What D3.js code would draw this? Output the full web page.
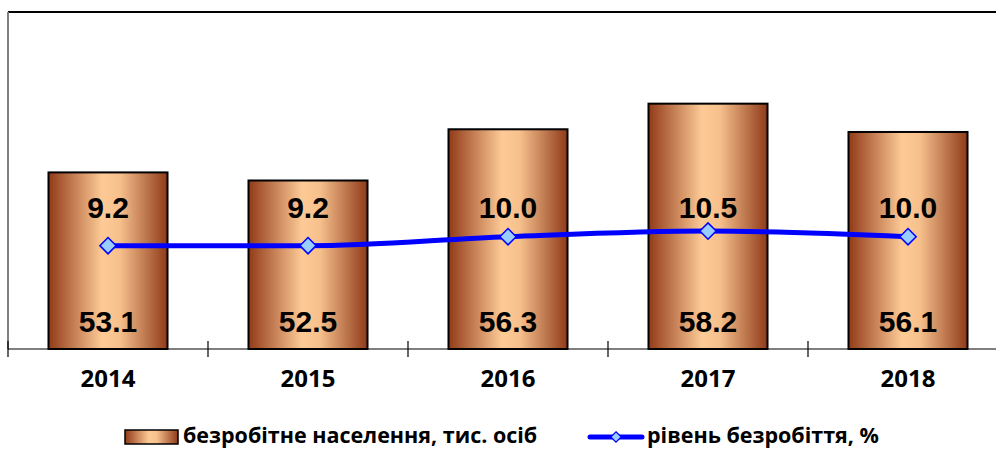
<!DOCTYPE html>
<html>
<head>
<meta charset="utf-8">
<script src="https://cdn.jsdelivr.net/npm/d3@7"></script>
<style>
  body { margin: 0; background: #fff; }
  svg { display: block; }
</style>
</head>
<body>
<div id="root"></div>
<script>
const years = ['2014', '2015', '2016', '2017', '2018'];
const unemployed = [53.1, 52.5, 56.3, 58.2, 56.1];
const rate = [9.2, 9.2, 10.0, 10.5, 10.0];

const W = 996, H = 450;
const plot = { left: 8, right: 1008, top: 12, bottom: 349 };

const svg = d3.select('#root').append('svg')
  .attr('width', W)
  .attr('height', H);

const defs = svg.append('defs');
const grad = defs.append('linearGradient')
  .attr('id', 'barGrad')
  .attr('x1', '0%').attr('x2', '100%').attr('y1', '0%').attr('y2', '0%');
grad.append('stop').attr('offset', '0%').attr('stop-color', '#913a18');
grad.append('stop').attr('offset', '45%').attr('stop-color', '#fdca96');
grad.append('stop').attr('offset', '60%').attr('stop-color', '#f6c08c');
grad.append('stop').attr('offset', '100%').attr('stop-color', '#8f3a19');

const x = d3.scaleBand()
  .domain(years)
  .range([plot.left, plot.right]);

const yBar = d3.scaleLinear().domain([40, 65]).range([plot.bottom, plot.top]);
const yRate = d3.scaleLinear().domain([0, 30]).range([plot.bottom, plot.top]);

// plot area frame
svg.append('line')
  .attr('x1', plot.left).attr('x2', W)
  .attr('y1', plot.top).attr('y2', plot.top)
  .attr('stroke', '#000').attr('stroke-width', 2);
svg.append('line')
  .attr('x1', plot.left).attr('x2', plot.left)
  .attr('y1', plot.top).attr('y2', plot.bottom)
  .attr('stroke', '#808080').attr('stroke-width', 2);

// bars
const barW = 119;
svg.selectAll('rect.bar')
  .data(years)
  .enter().append('rect')
    .attr('class', 'bar')
    .attr('x', (d) => x(d) + x.bandwidth() / 2 - barW / 2)
    .attr('width', barW)
    .attr('y', (d, i) => yBar(unemployed[i]))
    .attr('height', (d, i) => plot.bottom - yBar(unemployed[i]))
    .attr('fill', 'url(#barGrad)')
    .attr('stroke', '#000')
    .attr('stroke-width', 2);

// x axis
const xAxis = d3.axisBottom(x).tickSize(0).tickPadding(0);
const gx = svg.append('g')
  .attr('transform', `translate(0, ${plot.bottom})`)
  .call(xAxis);
gx.select('.domain').remove();
gx.append('line')
  .attr('x1', plot.left).attr('x2', W)
  .attr('stroke', '#000').attr('stroke-width', 1.2);
gx.selectAll('.tick text')
  .attr('y', 38)
  .attr('dy', null)
  .attr('font-family', 'Open Sans, sans-serif')
  .attr('font-weight', 'bold')
  .attr('font-size', 24)
  .attr('fill', '#000');
const bounds = years.map((d) => x(d)).concat([x(years[years.length - 1]) + x.bandwidth()]);
gx.selectAll('line.sep')
  .data(bounds)
  .enter().append('line')
    .attr('class', 'sep')
    .attr('x1', (d) => d).attr('x2', (d) => d)
    .attr('y1', -8).attr('y2', 8)
    .attr('stroke', '#000').attr('stroke-width', 1.2);

// rate line
const line = d3.line()
  .x((d, i) => x(years[i]) + x.bandwidth() / 2)
  .y((d) => yRate(d))
  .curve(d3.curveMonotoneX);

svg.append('path')
  .datum(rate)
  .attr('d', line)
  .attr('fill', 'none')
  .attr('stroke', '#0000ff')
  .attr('stroke-width', 5);

const diamond = d3.symbol().type(d3.symbolDiamond2).size(170);
svg.selectAll('path.marker')
  .data(rate)
  .enter().append('path')
    .attr('class', 'marker')
    .attr('d', diamond)
    .attr('transform', (d, i) => `translate(${x(years[i]) + x.bandwidth() / 2}, ${yRate(d)})`)
    .attr('fill', '#99ccff')
    .attr('stroke', '#0000ff')
    .attr('stroke-width', 1.5);

// data labels
svg.selectAll('text.rateLbl')
  .data(rate)
  .enter().append('text')
    .attr('class', 'rateLbl')
    .attr('x', (d, i) => x(years[i]) + x.bandwidth() / 2)
    .attr('y', 218)
    .attr('text-anchor', 'middle')
    .attr('font-family', 'Liberation Sans, Arial, sans-serif')
    .attr('font-weight', 'bold')
    .attr('font-size', 30)
    .text((d) => d.toFixed(1));

svg.selectAll('text.barLbl')
  .data(unemployed)
  .enter().append('text')
    .attr('class', 'barLbl')
    .attr('x', (d, i) => x(years[i]) + x.bandwidth() / 2)
    .attr('y', 332)
    .attr('text-anchor', 'middle')
    .attr('font-family', 'Liberation Sans, Arial, sans-serif')
    .attr('font-weight', 'bold')
    .attr('font-size', 30)
    .text((d) => d.toFixed(1));

// legend
const legend = svg.append('g').attr('font-family', 'Open Sans, sans-serif')
  .attr('font-weight', 'bold').attr('font-size', 21.5);
legend.append('rect')
  .attr('x', 125).attr('y', 430).attr('width', 53).attr('height', 14)
  .attr('fill', 'url(#barGrad)').attr('stroke', '#000').attr('stroke-width', 1.5);
legend.append('text')
  .attr('x', 183).attr('y', 443)
  .text('безробітне населення, тис. осіб');
legend.append('line')
  .attr('x1', 590).attr('x2', 642).attr('y1', 437).attr('y2', 437)
  .attr('stroke', '#0000ff').attr('stroke-width', 5).attr('stroke-linecap', 'round');
legend.append('path')
  .attr('d', d3.symbol().type(d3.symbolDiamond2).size(70))
  .attr('transform', 'translate(616, 437)')
  .attr('fill', '#99ccff').attr('stroke', '#0000ff').attr('stroke-width', 1.2);
legend.append('text')
  .attr('x', 647).attr('y', 443)
  .text('рівень безробіття, %');
</script>
</body>
</html>
